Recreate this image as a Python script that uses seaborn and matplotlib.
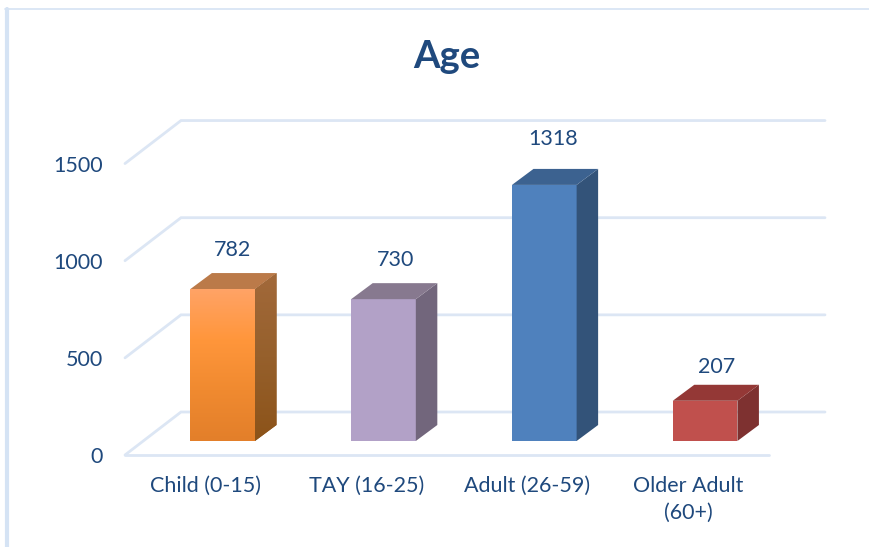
"""Age bar chart with a faux 3D look, drawn on seaborn bars."""

import matplotlib
matplotlib.use("Agg")
import matplotlib.pyplot as plt
import numpy as np
import pandas as pd
import seaborn as sns
from matplotlib.colors import LinearSegmentedColormap
from matplotlib.lines import Line2D
from matplotlib.patches import Polygon

categories = ["Child (0-15)", "TAY (16-25)", "Adult (26-59)", "Older Adult\n(60+)"]
values = [782, 730, 1318, 207]
y_ticks = [0, 500, 1000, 1500]

front_colors = ["#FF963B", "#B2A1C7", "#4F81BD", "#C0504D"]
side_colors = ["#96602C", "#72667C", "#335379", "#7E3130"]
top_colors = ["#BB7A49", "#87798F", "#3C6290", "#943836"]
label_shift = [10, 12, 9, 12]  # px right of the bar centre
label_lift = [23, 23, 30, 18]  # px above the top face

TEXT = "#1F497D"
GRID = "#DCE6F4"
FRAME = "#D5E3F4"

W, H = 869, 547
# px of the plot box
LEFT, RIGHT, TOP, BOTTOM = 125, 825, 100, 455
# scale of the picture
PX_PER_CAT = 160.8
PX_PER_UNIT = 0.1943
BAR0_PX = 222.7
BASE_PX = 441

depth_x = 21.5 / PX_PER_CAT
depth_y = 16 / PX_PER_UNIT
floor_drop = (BOTTOM - BASE_PX) / PX_PER_UNIT
back_x = 56 / PX_PER_CAT
back_y = 43 / PX_PER_UNIT

sns.set_theme(style="white")
plt.rcParams["font.family"] = ["Lato", "DejaVu Sans"]

fig = plt.figure(figsize=(W / 100, H / 100), dpi=100, facecolor="white")
ax = fig.add_axes([LEFT / W, 1 - BOTTOM / H, (RIGHT - LEFT) / W, (BOTTOM - TOP) / H])

df = pd.DataFrame({"group": categories, "count": values})
sns.barplot(
    data=df, x="group", y="count", hue="group",
    palette=dict(zip(categories, front_colors)),
    width=0.402, saturation=1, dodge=False, legend=False, ax=ax, zorder=3,
)

xmin = (LEFT - BAR0_PX) / PX_PER_CAT
xmax = (RIGHT - BAR0_PX) / PX_PER_CAT
ymin = -floor_drop
ymax = (BASE_PX - TOP) / PX_PER_UNIT

# back wall lines, with the slanted part going to the front
for t in y_ticks:
    ax.plot([xmin, xmin + back_x, xmax], [t + ymin, t + ymin + back_y, t + ymin + back_y],
            color=GRID, lw=2, zorder=1, solid_joinstyle="miter", clip_on=False)
# front edge of the floor
ax.plot([xmin, xmax - back_x], [ymin, ymin], color=GRID, lw=2, zorder=1, clip_on=False)

orange_front = LinearSegmentedColormap.from_list("of", ["#E37F2A", "#F08A30", "#FF963B", "#FFA366"])
orange_side = LinearSegmentedColormap.from_list("os", ["#8C5319", "#96602C", "#A2693A"])
ramp = np.linspace(0, 1, 128).reshape(-1, 1)

bars = ax.patches
for i, bar in enumerate(bars):
    x0, w, h = bar.get_x(), bar.get_width(), bar.get_height()
    x1 = x0 + w
    bar.set_edgecolor("none")

    side = Polygon([(x1, 0), (x1 + depth_x, depth_y), (x1 + depth_x, h + depth_y), (x1, h)],
                   closed=True, facecolor=side_colors[i], edgecolor="none", zorder=3)
    top = Polygon([(x0, h), (x0 + depth_x, h + depth_y), (x1 + depth_x, h + depth_y), (x1, h)],
                  closed=True, facecolor=top_colors[i], edgecolor="none", zorder=3)
    ax.add_patch(side)
    ax.add_patch(top)

    if i == 0:
        # only the orange bar has a gradient
        img = ax.imshow(ramp, cmap=orange_front, origin="lower", aspect="auto",
                        extent=(x0, x1, 0, h), zorder=3.5)
        img.set_clip_path(bar)
        img2 = ax.imshow(ramp, cmap=orange_side, origin="lower", aspect="auto",
                         extent=(x1, x1 + depth_x, 0, h + depth_y), zorder=3.5)
        img2.set_clip_path(side)

    ax.annotate(
        str(values[i]), xy=(x0 + w / 2, h + depth_y), xytext=(label_shift[i], label_lift[i]),
        textcoords="offset pixels", ha="center", va="center",
        fontsize=15.5, color=TEXT, zorder=5,
    )

ax.set_xlim(xmin, xmax)
ax.set_ylim(ymin, ymax)

# labels sit on the front plane, a little left of the bars
ax.set_xticks(np.arange(len(categories)) - 17 / PX_PER_CAT)
ax.set_xticklabels(categories, fontsize=15.5, color=TEXT, linespacing=1.45)
ax.set_yticks(np.array(y_ticks) + ymin)
ax.set_yticklabels([str(t) for t in y_ticks], fontsize=15.5, color=TEXT)
ax.tick_params(axis="x", length=0, pad=15)
ax.tick_params(axis="y", length=0, pad=16)
ax.set_xlabel("")
ax.set_ylabel("")
sns.despine(ax=ax, left=True, bottom=True, top=True, right=True)

fig.text(447 / W, 1 - 57 / H, "Age", ha="center", va="center",
         fontsize=27.5, fontweight="bold", color=TEXT)

# frame remains from the slide: top rule and thick left rule
fig.add_artist(Line2D([5 / W, 1], [1 - 9 / H, 1 - 9 / H], color=FRAME, lw=1.2))
fig.add_artist(Line2D([7 / W, 7 / W], [0, 1 - 9 / H], color=FRAME, lw=3))

fig.savefig("out.png", dpi=100)
plt.close(fig)
